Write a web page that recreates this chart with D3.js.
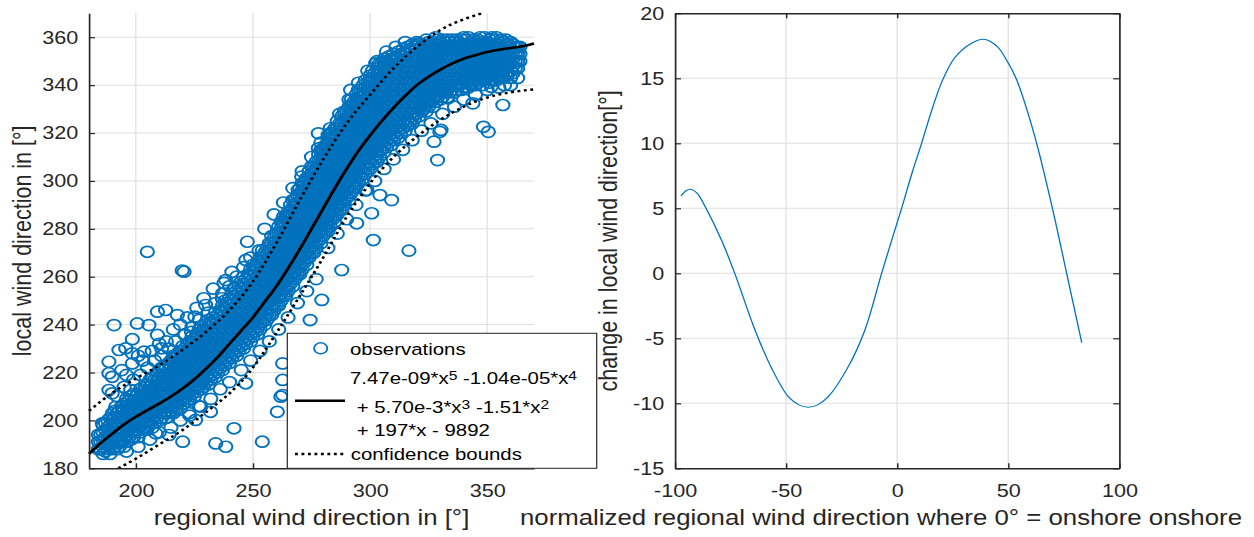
<!DOCTYPE html>
<html>
<head>
<meta charset="utf-8">
<script src="https://cdn.jsdelivr.net/npm/d3@7"></script>
<style>
  body { margin: 0; background: #fff; }
  svg { display: block; font-family: "Liberation Sans", Arial, Helvetica, sans-serif; }
</style>
</head>
<body>
<div id="wrapper"></div>
<script>
//****************************1. Data

// left panel: fitted polynomial and its confidence bounds
const fitX = [180, 185, 190, 195, 200, 205, 210, 215, 220, 225, 230, 235, 240, 245, 250, 255, 260, 265, 270, 275, 280, 285, 290, 295, 300, 305, 310, 315, 320, 325, 330, 335, 340, 345, 350, 355, 360, 365, 370]
const fitY = [186, 190.5, 194.5, 198.3, 201.5, 204.3, 207, 210, 213.3, 217.2, 221.6, 226.5, 232, 237.5, 243, 249.5, 256, 263.5, 271.5, 280, 288.5, 297, 305, 312.5, 319, 325, 330.5, 335.5, 340, 343.5, 346.5, 349, 351, 352.5, 353.8, 354.8, 355.5, 356.2, 357.4]

const upperX = [180, 190, 200, 210, 220, 230, 240, 250, 260, 270, 280, 290, 300, 310, 320, 330, 340, 348]
const upperY = [204, 211.5, 217.5, 223, 229.5, 237, 246, 258, 274, 292, 309, 324, 336, 347, 356, 363, 367.5, 370]

const lowerX = [192.5, 200, 210, 220, 230, 240, 250, 260, 270, 280, 290, 300, 310, 320, 330, 340, 350, 360, 370]
const lowerY = [180, 184, 190, 196, 203.5, 211.3, 222, 236.5, 252, 268, 285, 299, 310, 318.5, 325.5, 331, 334.8, 337, 338.2]

// observations, dense core: [regional, local, local, ...]
const obsCore = [
  [184,188,191,194],[185,188,191,194],[186,186,189,192,195,198],[187,187,190,193,196,199],[188,188,191,194,197,200],
  [189,186,189,192,195,198,201],[190,188,191,194,197,200,203],[191,189,192,195,198,201,204],[192,188,191,194,197,200,203],
  [193,189,192,195,198,201,204],[194,191,194,197,200,203,206],[195,189,192,195,198,201,204,207],[196,191,194,197,200,203,206,209],
  [197,193,196,199,202,205,208],[198,192,195,198,201,204,207,210],[199,193,196,199,202,205,208,211],[200,195,198,201,204,207,210],
  [201,193,196,199,202,205,208,211],[202,195,198,201,204,207,210,213],[203,197,200,203,206,209,212],[204,196,199,202,205,208,211,214],
  [205,197,200,203,206,209,212,215],[206,199,202,205,208,211,214,217],[207,197,200,203,206,209,212,215,218],[208,199,202,205,208,211,214,217],
  [209,201,204,207,210,213,216,219],[210,200,203,206,209,212,215,218,221],[211,201,204,207,210,213,216,219,222],[212,203,206,209,212,215,218,221],
  [213,201,204,207,210,213,216,219,222],[214,203,206,209,212,215,218,221,224],[215,204,207,210,213,216,219,222,225],
  [216,203,206,209,212,215,218,221,224,227],[217,205,208,211,214,217,220,223,226],[218,207,210,213,216,219,222,225,228],
  [219,205,208,211,214,217,220,223,226,229],[220,207,210,213,216,219,222,225,228,231],[221,209,212,215,218,221,224,227,230],
  [222,208,211,214,217,220,223,226,229,232],[223,209,212,215,218,221,224,227,230,233],[224,211,214,217,220,223,226,229,232,235],
  [225,210,213,216,219,222,225,228,231,234],[226,212,215,218,221,224,227,230,233,236],[227,214,217,220,223,226,229,232,235,238],
  [228,213,216,219,222,225,228,231,234,237],[229,214,217,220,223,226,229,232,235,238],[230,216,219,222,225,228,231,234,237,240],
  [231,215,218,221,224,227,230,233,236,239,242],[232,217,220,223,226,229,232,235,238,241],[233,219,222,225,228,231,234,237,240,243],
  [234,218,221,224,227,230,233,236,239,242,245],[235,220,223,226,229,232,235,238,241,244],[236,222,225,228,231,234,237,240,243,246],
  [237,221,224,227,230,233,236,239,242,245,248],[238,223,226,229,232,235,238,241,244,247,250],[239,225,228,231,234,237,240,243,246,249],
  [240,224,227,230,233,236,239,242,245,248,251],[241,226,229,232,235,238,241,244,247,250,253],[242,228,231,234,237,240,243,246,249,252,255],
  [243,227,230,233,236,239,242,245,248,251,254],[244,229,232,235,238,241,244,247,250,253,256],[245,231,234,237,240,243,246,249,252,255,258],
  [246,230,233,236,239,242,245,248,251,254,257,260],[247,232,235,238,241,244,247,250,253,256,259],[248,234,237,240,243,246,249,252,255,258,261],
  [249,233,236,239,242,245,248,251,254,257,260,263],[250,235,238,241,244,247,250,253,256,259,262,265],[251,237,240,243,246,249,252,255,258,261,264],
  [252,236,239,242,245,248,251,254,257,260,263,266],[253,238,241,244,247,250,253,256,259,262,265,268],[254,241,244,247,250,253,256,259,262,265,268,271],
  [255,240,243,246,249,252,255,258,261,264,267,270],[256,242,245,248,251,254,257,260,263,266,269,272],[257,244,247,250,253,256,259,262,265,268,271,274],
  [258,244,247,250,253,256,259,262,265,268,271,274,277],[259,246,249,252,255,258,261,264,267,270,273,276],[260,248,251,254,257,260,263,266,269,272,275,278],
  [261,248,251,254,257,260,263,266,269,272,275,278,281],[262,250,253,256,259,262,265,268,271,274,277,280,283],[263,252,255,258,261,264,267,270,273,276,279,282,285],
  [264,252,255,258,261,264,267,270,273,276,279,282,285],[265,254,257,260,263,266,269,272,275,278,281,284,287],[266,257,260,263,266,269,272,275,278,281,284,287,290],
  [267,256,259,262,265,268,271,274,277,280,283,286,289,292],[268,259,262,265,268,271,274,277,280,283,286,289,292],[269,261,264,267,270,273,276,279,282,285,288,291,294],
  [270,261,264,267,270,273,276,279,282,285,288,291,294,297],[271,263,266,269,272,275,278,281,284,287,290,293,296,299],[272,266,269,272,275,278,281,284,287,290,293,296,299],
  [273,265,268,271,274,277,280,283,286,289,292,295,298,301],[274,268,271,274,277,280,283,286,289,292,295,298,301,304],[275,270,273,276,279,282,285,288,291,294,297,300,303,306],
  [276,270,273,276,279,282,285,288,291,294,297,300,303,306],[277,272,275,278,281,284,287,290,293,296,299,302,305,308],[278,275,278,281,284,287,290,293,296,299,302,305,308,311],
  [279,274,277,280,283,286,289,292,295,298,301,304,307,310,313],[280,277,280,283,286,289,292,295,298,301,304,307,310,313],[281,279,282,285,288,291,294,297,300,303,306,309,312,315],
  [282,279,282,285,288,291,294,297,300,303,306,309,312,315,318],[283,281,284,287,290,293,296,299,302,305,308,311,314,317,320],[284,284,287,290,293,296,299,302,305,308,311,314,317,320],
  [285,283,286,289,292,295,298,301,304,307,310,313,316,319,322],[286,286,289,292,295,298,301,304,307,310,313,316,319,322,325],[287,288,291,294,297,300,303,306,309,312,315,318,321,324],
  [288,288,291,294,297,300,303,306,309,312,315,318,321,324,327],[289,290,293,296,299,302,305,308,311,314,317,320,323,326,329],[290,293,296,299,302,305,308,311,314,317,320,323,326,329],
  [291,292,295,298,301,304,307,310,313,316,319,322,325,328,331],[292,295,298,301,304,307,310,313,316,319,322,325,328,331,334],[293,297,300,303,306,309,312,315,318,321,324,327,330,333],
  [294,297,300,303,306,309,312,315,318,321,324,327,330,333,336],[295,299,302,305,308,311,314,317,320,323,326,329,332,335,338],[296,302,305,308,311,314,317,320,323,326,329,332,335,338],
  [297,301,304,307,310,313,316,319,322,325,328,331,334,337,340],[298,303,306,309,312,315,318,321,324,327,330,333,336,339,342],[299,305,308,311,314,317,320,323,326,329,332,335,338,341],
  [300,305,308,311,314,317,320,323,326,329,332,335,338,341,344],[301,307,310,313,316,319,322,325,328,331,334,337,340,343,346],[302,309,312,315,318,321,324,327,330,333,336,339,342,345],
  [303,308,311,314,317,320,323,326,329,332,335,338,341,344,347],[304,310,313,316,319,322,325,328,331,334,337,340,343,346,349],[305,313,316,319,322,325,328,331,334,337,340,343,346,349],
  [306,312,315,318,321,324,327,330,333,336,339,342,345,348,351],[307,314,317,320,323,326,329,332,335,338,341,344,347,350],[308,316,319,322,325,328,331,334,337,340,343,346,349,352],
  [309,315,318,321,324,327,330,333,336,339,342,345,348,351],[310,317,320,323,326,329,332,335,338,341,344,347,350,353],[311,319,322,325,328,331,334,337,340,343,346,349,352],
  [312,318,321,324,327,330,333,336,339,342,345,348,351,354],[313,320,323,326,329,332,335,338,341,344,347,350,353],[314,322,325,328,331,334,337,340,343,346,349,352,355],
  [315,321,324,327,330,333,336,339,342,345,348,351,354],[316,323,326,329,332,335,338,341,344,347,350,353,356],[317,325,328,331,334,337,340,343,346,349,352,355],
  [318,324,327,330,333,336,339,342,345,348,351,354,357],[319,326,329,332,335,338,341,344,347,350,353,356],[320,328,331,334,337,340,343,346,349,352,355,358],
  [321,327,330,333,336,339,342,345,348,351,354,357],[322,329,332,335,338,341,344,347,350,353,356],[323,330,333,336,339,342,345,348,351,354,357],
  [324,329,332,335,338,341,344,347,350,353,356,359],[325,331,334,337,340,343,346,349,352,355,358],[326,333,336,339,342,345,348,351,354,357],
  [327,331,334,337,340,343,346,349,352,355,358],[328,333,336,339,342,345,348,351,354,357,360],[329,335,338,341,344,347,350,353,356,359],
  [330,334,337,340,343,346,349,352,355,358],[331,335,338,341,344,347,350,353,356,359],[332,337,340,343,346,349,352,355,358],
  [333,335,338,341,344,347,350,353,356,359],[334,337,340,343,346,349,352,355,358],[335,338,341,344,347,350,353,356,359],
  [336,337,340,343,346,349,352,355,358],[337,338,341,344,347,350,353,356,359],[338,340,343,346,349,352,355,358],
  [339,338,341,344,347,350,353,356,359],[340,339,342,345,348,351,354,357,360],[341,341,344,347,350,353,356,359],
  [342,339,342,345,348,351,354,357,360],[343,340,343,346,349,352,355,358],[344,341,344,347,350,353,356,359],
  [345,340,343,346,349,352,355,358],[346,341,344,347,350,353,356,359],[347,342,345,348,351,354,357,360],
  [348,340,343,346,349,352,355,358],[349,342,345,348,351,354,357,360],[350,343,346,349,352,355,358],
  [351,341,344,347,350,353,356,359],[352,342,345,348,351,354,357,360],[353,344,347,350,353,356,359],
  [354,342,345,348,351,354,357,360],[355,343,346,349,352,355,358],[356,344,347,350,353,356,359],
  [357,343,346,349,352,355,358],[358,344,347,350,353,356,359],[359,345,348,351,354,357],
  [360,343,346,349,352,355,358],[361,345,348,351,354,357],[362,347,350,353,356],[363,347,350,353,356],[364,350,353,356]
]

// observations, looser fringe around the core
const obsFringe = [
  [192,210],[195,214],[199,217],[202,219],[205,222],[208,225],[211,227],[214,230],[217,233],[221,236],[224,239],[227,242],
  [231,245],[234,249],[237,253],[240,256],[243,260],[246,264],[249,268],[196,219],[203,225],[207,229],[213,233],[219,240],
  [226,247],[233,255],[241,262],[194,221],[201,227],[210,232],[216,238],[222,243],[229,251],
  [196,187],[201,189],[206,192],[210,195],[215,197],[219,200],[223,202],[227,206],[232,209],[236,213],[240,216],[245,221],
  [249,225],[253,229],[257,233],[261,238],[265,243],[269,249],[273,254],[277,259],
  [255,280],[259,286],[263,291],[267,297],[271,304],[275,310],[279,316],[283,322],[287,328],[291,334],[295,341],[299,346],
  [303,350],[307,354],[311,356],[315,358],
  [282,272],[286,278],[290,284],[294,290],[298,296],[302,300],[306,305],[310,309],[314,313],[318,317],[322,321],[326,324],
  [331,328],[336,331],[340,334],[345,336],[350,338],[355,339],[360,340],[363,343]
]

// observations, isolated circles
const obsOutliers = [
  [204.9,270.4],[220.6,262.1],[219.8,262.6],[238.4,258.6],[237.7,257.4],[247.6,274.6],[252.6,271],[190.7,239.8],
  [200.6,240.5],[205.6,239.8],[209.2,245.4],[212.7,246.1],[217.7,244],[209.2,235.7],[198.5,233.9],[192.8,229.4],
  [195.7,230.1],[198.5,228],[203.5,228.7],[188.5,224.5],[188.5,219.7],[189.9,218.2],[198.5,223.8],[211,230.1],
  [216.6,226.6],[220.9,235.7],[223.7,237],[229.8,248.2],[236.9,251],[225.2,243.3],[228,239.1],[188.5,212.7],
  [189.9,211.3],[197.8,212.7],[185.7,198.8],[191.4,205.7],[194.2,204.3],[208.5,194.6],[214.2,193.9],[220,191.1],
  [234.1,190.4],[238.4,189],[241.9,196.7],[254,191.1],[260.4,203.6],[262.7,223.8],[262.7,216.9],[262.7,210.6],
  [271.2,214.8],[272.6,223.8],[246.9,215.5],[231.9,203.6],[227.7,205.7],[222.7,203],[225.5,200.2],[269.3,216.9],
  [261.9,209.9],[328.8,308.7],[309.2,292],[304.2,294.1],[300.7,286.5],[301.4,275.3],[316.6,270.9],[348.4,322.6],
  [350.5,320.5],[327.3,316.4],[343.9,332.4],[356.7,331.7],[357.4,340],[351.7,339.3],[333.3,334.5],[329.8,320.5],
  [316.9,324],[302.4,349.1],[306,349.8],[311,350.5],[320.9,357.5],[291.7,338],[298.1,336.6],[295.3,332.4],
  [292.4,325.4],[296.7,325.4],[319.5,351.9],[329.5,354.7],[294.6,333.1],[297.4,335.9],[299.5,336.6],[282.1,319.2],
  [281.4,313.6],[272.8,301.1],[265.6,285.8],[330.3,321.3],[287.9,262.8],[279.4,250.3],[274.4,241.9],[277.9,319.9],
  [277.9,313.6],[270.8,301.8],[247,267],[250.6,264.2],[264.9,285],[269.3,296.2],[279.4,312.9],[294.3,282.3],
  [298.6,296.2]
]

const xTicksLeft = [200, 250, 300, 350]
const yTicksLeft = [180, 200, 220, 240, 260, 280, 300, 320, 340, 360]

// right panel: change in local wind direction
const changeX = [-97.3, -95, -93.2, -90, -86.5, -79.1, -73.1, -64, -56.5, -49, -44, -40, -36, -31, -22, -14.5, -7, -2, 2, 6.5, 11, 15.5, 20.3, 26, 33.5, 38.8, 41.8, 45.6, 50.1, 53.5, 56.8, 62.8, 69.9, 76.3, 83.1]
const changeY = [5.95, 6.35, 6.46, 6.15, 5.15, 2.56, 0, -4.36, -7.3, -9.49, -10.14, -10.3, -10.14, -9.49, -7.18, -4.36, 0, 2.8, 5, 7.6, 10, 12.5, 14.8, 16.6, 17.7, 18, 17.85, 17.35, 16.15, 15, 13.46, 10, 5, 0, -5.33]

const xTicksRight = [-100, -50, 0, 50, 100]
const yTicksRight = [-15, -10, -5, 0, 5, 10, 15, 20]

//****************************2. Dimensions
// the reference picture is stretched sideways, so everything is drawn in a
// narrower frame and scaled horizontally
const SX = 1.2
const dimensions = { width: 1254, height: 537 }
const left = { x0: 89 / SX, x1: 534 / SX, y0: 13.3, y1: 468.3 }
const right = { x0: 675 / SX, x1: 1119.3 / SX, y0: 13.3, y1: 468.3 }

const blue = "#0072BD"
const ink = "#262626"
const gridColor = "#dfdfdf"

//****************************3. Canvas
const svg = d3.select("#wrapper").append("svg")
  .attr("width", dimensions.width)
  .attr("height", dimensions.height)
const root = svg.append("g").attr("transform", `scale(${SX},1)`)

const styleAxis = (g, withText) => {
  g.attr("font-family", null).attr("font-size", null)
  g.select(".domain").attr("stroke", ink).attr("stroke-width", 1.4)
  g.selectAll(".tick line").attr("stroke", ink).attr("stroke-width", 1.2)
  g.selectAll(".tick text")
    .attr("fill", ink)
    .style("font-size", "18px")
  if (!withText) g.selectAll(".tick text").remove()
}

//****************************4. Left panel
const xL = d3.scaleLinear().domain([180, 370]).range([left.x0, left.x1])
const yL = d3.scaleLinear().domain([180, 370]).range([left.y1, left.y0])

const gL = root.append("g")

gL.append("g").selectAll("line").data(xTicksLeft).join("line")
  .attr("x1", d => xL(d)).attr("x2", d => xL(d))
  .attr("y1", left.y0).attr("y2", left.y1)
  .attr("stroke", gridColor).attr("stroke-width", 1)
gL.append("g").selectAll("line").data(yTicksLeft.slice(1)).join("line")
  .attr("x1", left.x0).attr("x2", left.x1)
  .attr("y1", d => yL(d)).attr("y2", d => yL(d))
  .attr("stroke", gridColor).attr("stroke-width", 1)

const observations = obsCore.flatMap(([x, ...ys]) => ys.map(y => [x, y]))
  .concat(obsFringe, obsOutliers)

gL.append("g").selectAll("circle").data(observations).join("circle")
  .attr("cx", d => xL(d[0]))
  .attr("cy", d => yL(d[1]))
  .attr("r", 5.5)
  .attr("fill", "none")
  .attr("stroke", blue)
  .attr("stroke-width", 1.7)

const lineL = d3.line()
  .x(d => xL(d[0]))
  .y(d => yL(d[1]))
  .curve(d3.curveMonotoneX)

gL.append("path")
  .datum(d3.zip(upperX, upperY))
  .attr("d", lineL).attr("fill", "none")
  .attr("stroke", "#000").attr("stroke-width", 2.4).attr("stroke-dasharray", "2.4 3")
gL.append("path")
  .datum(d3.zip(lowerX, lowerY))
  .attr("d", lineL).attr("fill", "none")
  .attr("stroke", "#000").attr("stroke-width", 2.4).attr("stroke-dasharray", "2.4 3")
gL.append("path")
  .datum(d3.zip(fitX, fitY))
  .attr("d", lineL).attr("fill", "none")
  .attr("stroke", "#000").attr("stroke-width", 2.6)

const axLeftL = gL.append("g")
  .attr("transform", `translate(${left.x0},0)`)
  .call(d3.axisLeft(yL).tickValues(yTicksLeft).tickSizeInner(-5).tickSizeOuter(0).tickPadding(9).tickFormat(d => d))
styleAxis(axLeftL, true)

const axBottomL = gL.append("g")
  .attr("transform", `translate(0,${left.y1})`)
  .call(d3.axisBottom(xL).tickValues(xTicksLeft).tickSizeInner(-5).tickSizeOuter(0).tickPadding(16).tickFormat(d => d))
styleAxis(axBottomL, true)

gL.append("text")
  .attr("x", (left.x0 + left.x1) / 2).attr("y", 525)
  .attr("text-anchor", "middle").attr("fill", ink).style("font-size", "21.5px")
  .text("regional wind direction in [°]")
gL.append("text")
  .attr("transform", `translate(26,${(left.y0 + left.y1) / 2}) rotate(-90)`)
  .attr("text-anchor", "middle").attr("fill", ink).style("font-size", "21.5px")
  .text("local wind direction in [°]")

//----------------------- legend
const legend = gL.append("g")
legend.append("rect")
  .attr("x", 287.3 / SX).attr("y", 333.3)
  .attr("width", (596.7 - 287.3) / SX).attr("height", 135)
  .attr("fill", "#fff").attr("stroke", ink).attr("stroke-width", 1)
legend.append("circle")
  .attr("cx", 320.7 / SX).attr("cy", 348.3).attr("r", 5.5)
  .attr("fill", "none").attr("stroke", blue).attr("stroke-width", 1.5)
legend.append("line")
  .attr("x1", 295 / SX).attr("x2", 345 / SX).attr("y1", 400.7).attr("y2", 400.7)
  .attr("stroke", "#000").attr("stroke-width", 2.6)
legend.append("line")
  .attr("x1", 295 / SX).attr("x2", 345 / SX).attr("y1", 454).attr("y2", 454)
  .attr("stroke", "#000").attr("stroke-width", 2.4).attr("stroke-dasharray", "2.4 3")

const legendText = (x, y) => legend.append("text")
  .attr("x", x / SX).attr("y", y)
  .attr("fill", "#000").style("font-size", "17px")

legendText(350, 355).text("observations")

const eq1 = legendText(350, 384.5)
eq1.append("tspan").text("7.47e-09*x")
eq1.append("tspan").attr("dy", -4).style("font-size", "13px").text("5")
eq1.append("tspan").attr("dy", 4).text(" -1.04e-05*x")
eq1.append("tspan").attr("dy", -4).style("font-size", "13px").text("4")

const eq2 = legendText(356.7, 413)
eq2.append("tspan").text("+ 5.70e-3*x")
eq2.append("tspan").attr("dy", -4).style("font-size", "13px").text("3")
eq2.append("tspan").attr("dy", 4).text(" -1.51*x")
eq2.append("tspan").attr("dy", -4).style("font-size", "13px").text("2")

legendText(356.7, 436.5).text("+ 197*x - 9892")
legendText(350.7, 460).text("confidence bounds")

//****************************5. Right panel
const xR = d3.scaleLinear().domain([-100, 100]).range([right.x0, right.x1])
const yR = d3.scaleLinear().domain([-15, 20]).range([right.y1, right.y0])

const gR = root.append("g")

gR.append("g").selectAll("line").data(xTicksRight.slice(1, -1)).join("line")
  .attr("x1", d => xR(d)).attr("x2", d => xR(d))
  .attr("y1", right.y0).attr("y2", right.y1)
  .attr("stroke", gridColor).attr("stroke-width", 1)
gR.append("g").selectAll("line").data(yTicksRight.slice(1, -1)).join("line")
  .attr("x1", right.x0).attr("x2", right.x1)
  .attr("y1", d => yR(d)).attr("y2", d => yR(d))
  .attr("stroke", gridColor).attr("stroke-width", 1)

gR.append("path")
  .datum(d3.zip(changeX, changeY))
  .attr("d", d3.line().x(d => xR(d[0])).y(d => yR(d[1])).curve(d3.curveCatmullRom.alpha(0.5)))
  .attr("fill", "none")
  .attr("stroke", blue)
  .attr("stroke-width", 1.1)

const axisR = [
  [d3.axisLeft(yR).tickValues(yTicksRight).tickPadding(9), `translate(${right.x0},0)`, true],
  [d3.axisRight(yR).tickValues(yTicksRight), `translate(${right.x1},0)`, false],
  [d3.axisBottom(xR).tickValues(xTicksRight).tickPadding(16), `translate(0,${right.y1})`, true],
  [d3.axisTop(xR).tickValues(xTicksRight), `translate(0,${right.y0})`, false]
]
axisR.forEach(([gen, tr, withText]) => {
  const g = gR.append("g").attr("transform", tr)
    .call(gen.tickSizeInner(-5).tickSizeOuter(0).tickFormat(d => String(d)))
  styleAxis(g, withText)
})

gR.append("text")
  .attr("x", 881 / SX).attr("y", 525)
  .attr("text-anchor", "middle").attr("fill", ink).style("font-size", "21.5px")
  .text("normalized regional wind direction where 0° = onshore onshore")
gR.append("text")
  .attr("transform", `translate(${617 / SX},${(right.y0 + right.y1) / 2}) rotate(-90)`)
  .attr("text-anchor", "middle").attr("fill", ink).style("font-size", "21.5px")
  .text("change in local wind direction[°]")
</script>
</body>
</html>
